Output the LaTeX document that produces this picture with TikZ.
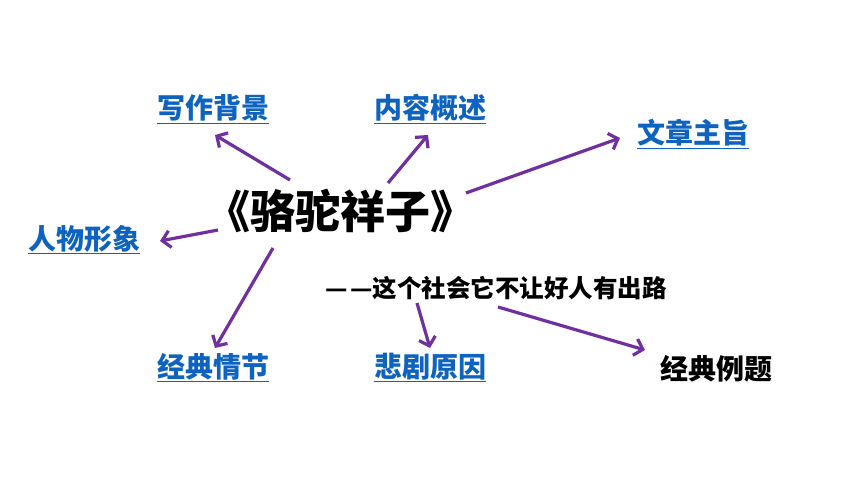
\documentclass[tikz,border=0pt]{standalone}
\usepackage{fontspec}
\newfontfamily\cjk{Noto Sans CJK SC}
\usetikzlibrary{arrows.meta}
\definecolor{linkblue}{HTML}{0E63C0}
\definecolor{arrowpurple}{HTML}{7030A0}
\begin{document}
\begin{tikzpicture}[x=1pt,y=-1pt,
  topic/.style={inner sep=0pt, anchor=base, text=linkblue, font=\cjk\bfseries\fontsize{28}{30}\selectfont},
  plain/.style={inner sep=0pt, anchor=base, text=black, font=\cjk\bfseries\fontsize{28}{30}\selectfont},
  titlebox/.style={inner sep=0pt, anchor=base, text=black, font=\cjk\bfseries\fontsize{45}{48}\selectfont},
  subbox/.style={inner sep=0pt, anchor=base, text=black, font=\cjk\bfseries\fontsize{24.5}{27}\selectfont},
  conn/.style={draw=arrowpurple, line width=3.2pt, -{Straight Barb[length=8pt,width=17pt]}}]
\fill[white] (0,0) rectangle (860,484);
\useasboundingbox (0,0) rectangle (860,484);

\node[titlebox] (title) at (340,228) {《骆驼祥子》};
\node[subbox] (sub) at (496,297) {—\kern3pt—这个社会它不让好人有出路};
\node[topic] (bg) at (213,119) {\underline{写作背景}};
\node[topic] (ca) at (430,119) {\underline{内容概述}};
\node[topic] (zt) at (693,144) {\underline{文章主旨}};
\node[topic] (rw) at (84,249) {\underline{人物形象}};
\node[topic] (jq) at (213,377) {\underline{经典情节}};
\node[topic] (bj) at (430,377) {\underline{悲剧原因}};
\node[plain] (lt) at (716,379) {经典例题};

\draw[conn] ([shift={(-50,-48)}]title.base) -- ([shift={(2,16)}]bg.base);
\draw[conn] ([shift={(48,-45)}]title.base) -- ([shift={(-2,16)}]ca.base);
\draw[conn] ([shift={(126,-35)}]title.base) -- ([shift={(-73,-6)}]zt.base);
\draw[conn] ([shift={(-122,2)}]title.base) -- ([shift={(76,-8)}]rw.base);
\draw[conn] ([shift={(-67,20)}]title.base) -- ([shift={(2,-29)}]jq.base);
\draw[conn] ([shift={(-79,6)}]sub.base) -- ([shift={(0,-29)}]bj.base);
\draw[conn] ([shift={(2,10)}]sub.base) -- ([shift={(-71,-29)}]lt.base);
\end{tikzpicture}
\end{document}
